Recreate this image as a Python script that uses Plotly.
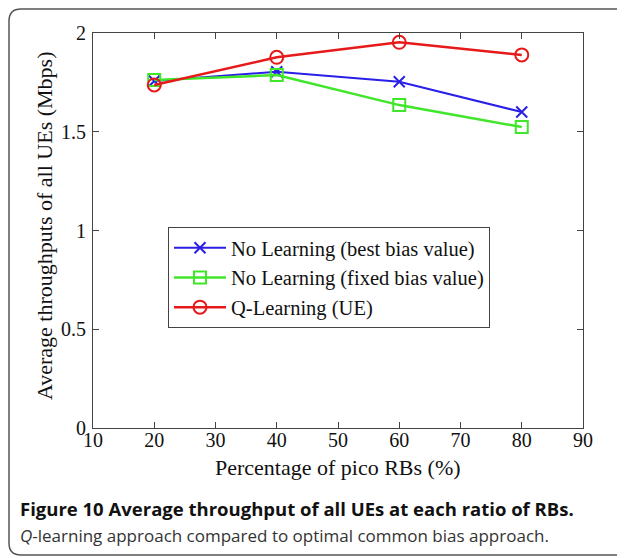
import plotly.graph_objects as go

x_vals = [20, 40, 60, 80]
best_bias = [1.757, 1.804, 1.753, 1.600]
fixed_bias = [1.762, 1.787, 1.635, 1.524]
q_learning = [1.737, 1.877, 1.953, 1.889]
x_ticks = [10, 20, 30, 40, 50, 60, 70, 80, 90]
y_ticks = [0, 0.5, 1, 1.5, 2]
y_tick_labels = ["0", "0.5", "1", "1.5", "2"]

# page body has an 8px margin, so the figure is drawn 8px in from the window
OFF = 8
W, H = 625 - OFF, 558 - OFF
L, R, T, B = 93 - OFF, 42, 33 - OFF, 130
pw, ph = W - L - R, H - T - B

def px(xp):
    return (xp - OFF - L) / pw

def py(yp):
    return (H - B - (yp - OFF)) / ph

serif = "Liberation Serif, Times New Roman, serif"

fig = go.Figure()
fig.add_trace(go.Scatter(x=x_vals, y=best_bias, mode="lines+markers",
                         name="No Learning (best bias value)",
                         line=dict(color="#2a1fe6", width=2),
                         marker=dict(symbol="x-thin-open", size=11,
                                     line=dict(color="#2a1fe6", width=2))))
fig.add_trace(go.Scatter(x=x_vals, y=fixed_bias, mode="lines+markers",
                         name="No Learning (fixed bias value)",
                         line=dict(color="#3fe62a", width=2.5),
                         marker=dict(symbol="square-open", size=12,
                                     line=dict(color="#3fe62a", width=2))))
fig.add_trace(go.Scatter(x=x_vals, y=q_learning, mode="lines+markers",
                         name="Q-Learning (UE)",
                         line=dict(color="#e61a1a", width=2.5),
                         marker=dict(symbol="circle-open", size=13,
                                     line=dict(color="#e61a1a", width=2))))

axis_common = dict(showgrid=False, zeroline=False, showline=True, mirror="ticks",
                   linecolor="#444", linewidth=1, ticks="inside", ticklen=6,
                   tickcolor="#444", tickfont=dict(family=serif, size=20, color="#111"))

fig.update_xaxes(range=[10, 90], tickvals=x_ticks, ticklabelstandoff=-6, **axis_common)
fig.update_yaxes(range=[0, 2], tickvals=y_ticks, ticktext=y_tick_labels,
                 ticklabelstandoff=2, **axis_common)

# rounded frame around whole figure
x0, y0, x1, y1, r = px(9), py(9), px(640), py(555), 12
rx, ry = r / pw, r / ph
path = (f"M {x0+rx},{y0} L {x1},{y0} L {x1},{y1} L {x0+rx},{y1} "
        f"Q {x0},{y1} {x0},{y1+ry} L {x0},{y0-ry} Q {x0},{y0} {x0+rx},{y0} Z")
fig.add_shape(type="path", path=path, xref="paper", yref="paper",
              line=dict(color="#555", width=1.5), fillcolor="rgba(0,0,0,0)", layer="below")

fig.add_annotation(text="Percentage of pico RBs (%)", xref="paper", yref="paper",
                   x=0.5, y=py(467), xanchor="center", yanchor="middle", showarrow=False,
                   font=dict(family=serif, size=22, color="#111"))
fig.add_annotation(text="Average throughputs of all UEs (Mbps)", xref="paper", yref="paper",
                   x=px(44), y=py(226), xanchor="center", yanchor="middle", showarrow=False,
                   textangle=-90, font=dict(family=serif, size=22, color="#111"))
fig.add_annotation(text="<b>Figure 10 Average throughput of all UEs at each ratio of RBs.</b>",
                   xref="paper", yref="paper", x=px(18), y=py(508), xanchor="left",
                   yanchor="middle", showarrow=False,
                   font=dict(family="Open Sans, sans-serif", size=18.5, color="#111"))
fig.add_annotation(text="<i>Q</i>-learning approach compared to optimal common bias approach.",
                   xref="paper", yref="paper", x=px(18), y=py(535), xanchor="left",
                   yanchor="middle", showarrow=False,
                   font=dict(family="Open Sans, sans-serif", size=17, color="#333"))

fig.update_layout(width=W, height=H, margin=dict(l=L, r=R, t=T, b=B),
                  paper_bgcolor="white", plot_bgcolor="white",
                  legend=dict(x=px(168), y=py(227), xanchor="left", yanchor="top",
                              bordercolor="#444", borderwidth=1, bgcolor="white",
                              font=dict(family=serif, size=20.5, color="#111"),
                              itemwidth=52, tracegroupgap=0))

fig.write_html("out.html")
